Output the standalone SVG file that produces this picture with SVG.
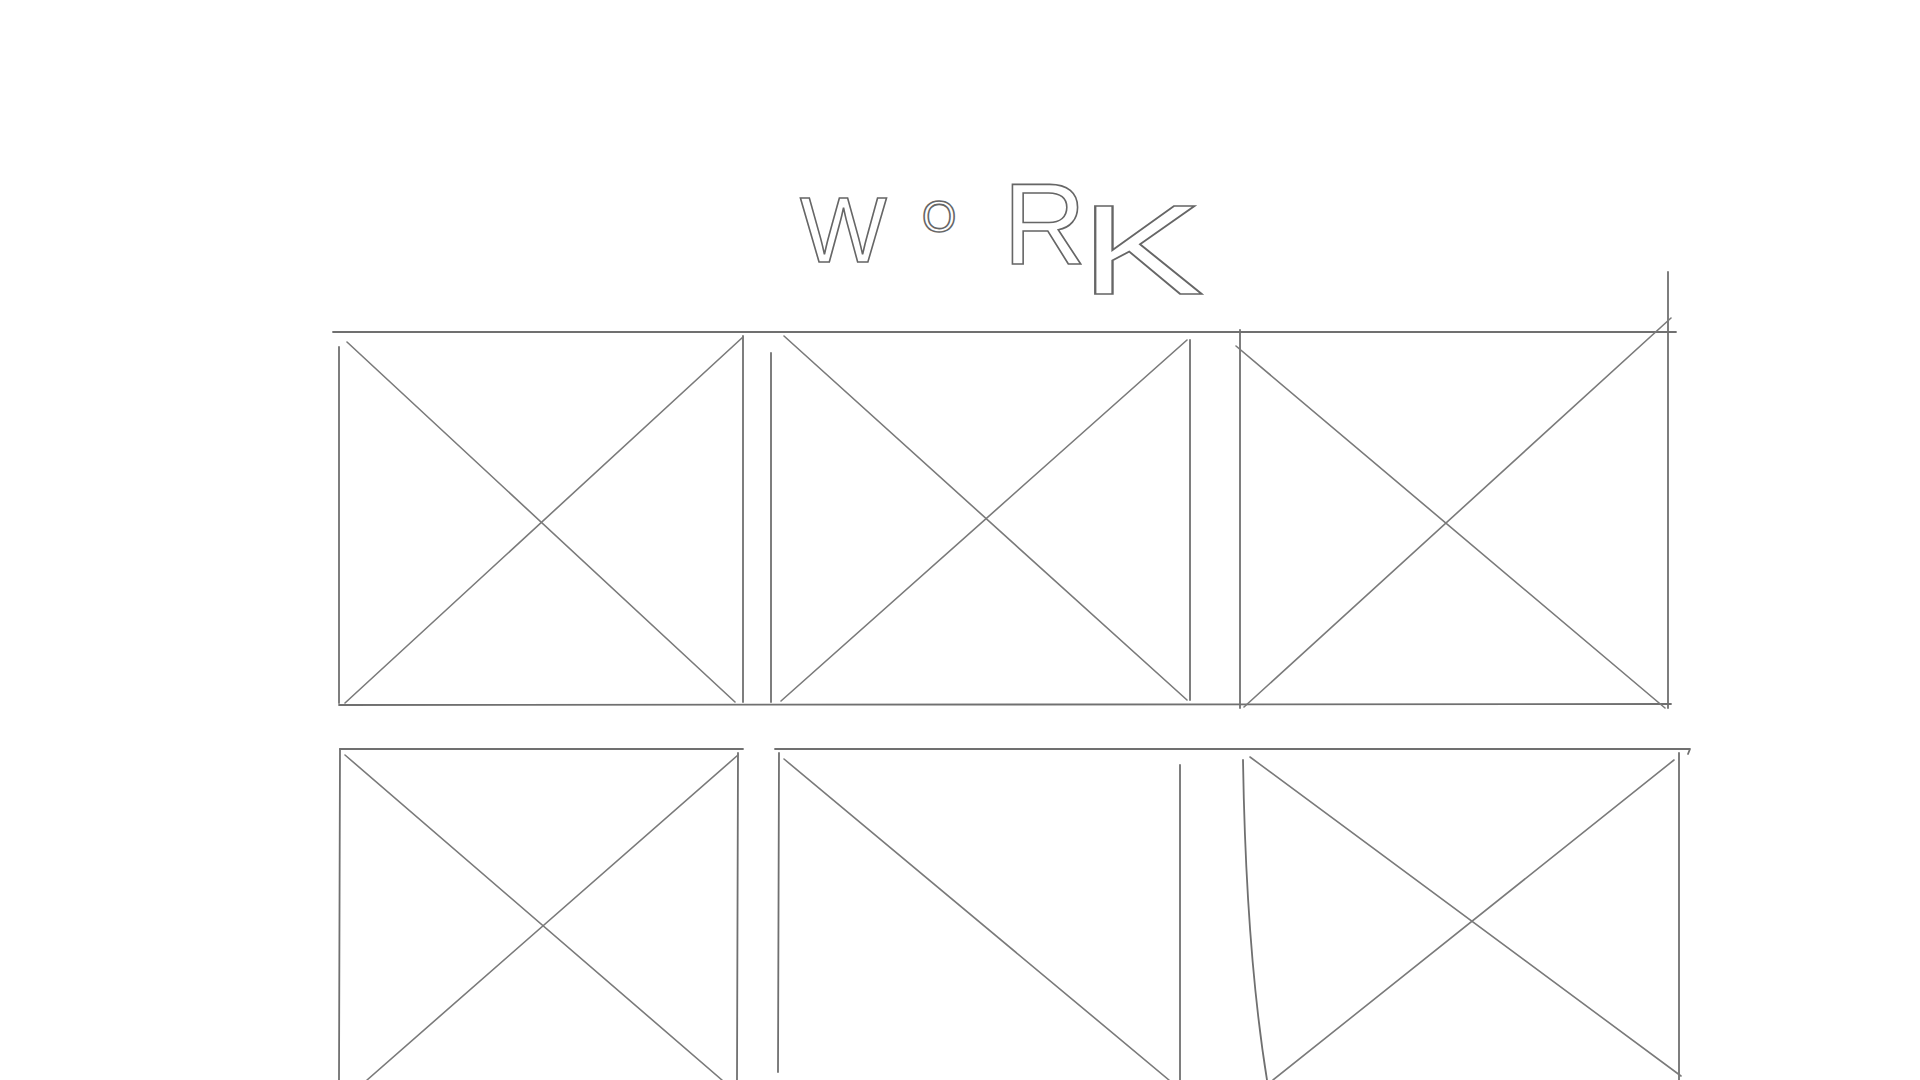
<svg xmlns="http://www.w3.org/2000/svg" width="1920" height="1080" viewBox="0 0 1920 1080">
<style>
.p{fill:none;stroke:#707070;stroke-width:1.8;stroke-linecap:round;stroke-linejoin:round}
.d{fill:none;stroke:#7a7a7a;stroke-width:1.6;stroke-linecap:round}
.t{font-family:"Liberation Sans","DejaVu Sans",sans-serif;fill:none;stroke:#666;stroke-width:1.6}
</style>
<rect width="1920" height="1080" fill="#ffffff"/>
<g id="title">
<text class="t" font-size="92" y="262"><tspan x="800">W</tspan><tspan x="922" font-size="44" y="232">O</tspan><tspan x="1003" font-size="115" y="264">R</tspan></text>
<text class="t" font-size="128" transform="translate(1080 294) scale(1.45 1)" x="0" y="0" stroke-width="1.2">K</text>
</g>
<g id="row1-frame">
<path class="p" d="M333 332 L1676 332"/>
<path class="p" d="M339 705 L1671 704"/>
</g>
<g id="tile1">
<path class="p" d="M339 347 L339 703"/>
<path class="p" d="M743 336 L743 702"/>
<path class="d" d="M347 342 L735 702"/>
<path class="d" d="M743 337 L345 703"/>
</g>
<g id="tile2">
<path class="p" d="M771 353 L771 702"/>
<path class="p" d="M1190 340 L1190 700"/>
<path class="d" d="M784 336 L1187 700"/>
<path class="d" d="M1187 340 L781 701"/>
</g>
<g id="tile3">
<path class="p" d="M1240 330 L1240 708"/>
<path class="p" d="M1668 272 L1668 708"/>
<path class="d" d="M1236 346 L1665 708"/>
<path class="d" d="M1671 318 L1244 707"/>
</g>
<g id="row2-frame">
<path class="p" d="M340 749 L743 749"/>
<path class="p" d="M775 749 L1690 749 L1688 754"/>
</g>
<g id="tile4">
<path class="p" d="M340 749 L339 1080"/>
<path class="p" d="M738 753 L737 1080"/>
<path class="d" d="M345 755 L722 1080"/>
<path class="d" d="M738 755 L367 1080"/>
</g>
<g id="tile5">
<path class="p" d="M779 753 L778 1072"/>
<path class="d" d="M784 759 L1169 1080"/>
<path class="p" d="M1180 765 L1180 1080"/>
</g>
<g id="tile6">
<path class="p" d="M1243 760 Q1246 950 1267 1080"/>
<path class="p" d="M1679 753 L1679 1080"/>
<path class="d" d="M1250 757 L1681 1076"/>
<path class="d" d="M1674 760 L1273 1080"/>
</g>
</svg>
